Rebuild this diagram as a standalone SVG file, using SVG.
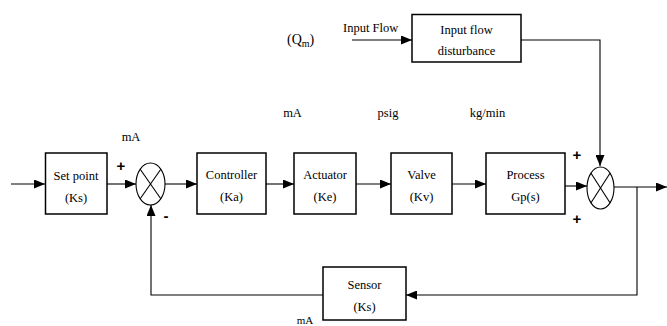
<svg xmlns="http://www.w3.org/2000/svg" width="667" height="326" viewBox="0 0 667 326">
<style>
.box{fill:#fff;stroke:#000;stroke-width:1.5}
.ln{fill:none;stroke:#000;stroke-width:1.1}
.sum{fill:#fff;stroke:#000;stroke-width:1.1}
.c{text-anchor:middle}
</style>
<defs>
<marker id="ah" markerWidth="11" markerHeight="9" refX="11" refY="4.5" orient="auto" markerUnits="userSpaceOnUse">
<path d="M0,0 L11,4.5 L0,9 Z" fill="#000"/>
</marker>
</defs>
<rect width="667" height="326" fill="#fff"/>
<g id="connectors">
<line class="ln" x1="11" y1="184" x2="45" y2="184" marker-end="url(#ah)"/>
<line class="ln" x1="107" y1="184" x2="136" y2="184" marker-end="url(#ah)"/>
<line class="ln" x1="165" y1="184" x2="197" y2="184" marker-end="url(#ah)"/>
<line class="ln" x1="266" y1="184" x2="294" y2="184" marker-end="url(#ah)"/>
<line class="ln" x1="356" y1="184" x2="391" y2="184" marker-end="url(#ah)"/>
<line class="ln" x1="452" y1="184" x2="486" y2="184" marker-end="url(#ah)"/>
<line class="ln" x1="565" y1="186" x2="587" y2="186" marker-end="url(#ah)"/>
<line class="ln" x1="614" y1="187" x2="667" y2="187" marker-end="url(#ah)"/>
<polyline class="ln" points="637,187 637,295 406,295" marker-end="url(#ah)"/>
<polyline class="ln" points="323,295 151,295 151,205" marker-end="url(#ah)"/>
<line class="ln" x1="352" y1="40" x2="412" y2="40" marker-end="url(#ah)"/>
<polyline class="ln" points="521,40 600,40 600,166" marker-end="url(#ah)"/>
</g>
<g font-family="'Liberation Serif','Times New Roman','DejaVu Serif',serif" font-size="12.5" fill="#000">
<g id="setpoint">
<rect class="box" x="45.5" y="153" width="61.5" height="61"/>
<text class="c" x="76" y="180">Set point</text>
<text class="c" x="76" y="202">(Ks)</text>
</g>
<g id="sum1">
<ellipse class="sum" cx="150.5" cy="184" rx="14.5" ry="21"/>
<line class="ln" x1="140.2" y1="169.2" x2="160.8" y2="198.8"/>
<line class="ln" x1="160.8" y1="169.2" x2="140.2" y2="198.8"/>
</g>
<g id="controller">
<rect class="box" x="197" y="153" width="69" height="61"/>
<text class="c" x="231.5" y="179">Controller</text>
<text class="c" x="231.5" y="201">(Ka)</text>
</g>
<g id="actuator">
<rect class="box" x="294" y="153" width="62" height="61"/>
<text class="c" x="325" y="179">Actuator</text>
<text class="c" x="325" y="201">(Ke)</text>
</g>
<g id="valve">
<rect class="box" x="391" y="153" width="61" height="61"/>
<text class="c" x="421.5" y="179">Valve</text>
<text class="c" x="421.5" y="201">(Kv)</text>
</g>
<g id="process">
<rect class="box" x="486" y="153" width="79" height="61"/>
<text class="c" x="525.5" y="179">Process</text>
<text class="c" x="525.5" y="201">Gp(s)</text>
</g>
<g id="sum2">
<ellipse class="sum" cx="600.5" cy="188" rx="13.5" ry="21"/>
<line class="ln" x1="591" y1="173.2" x2="610" y2="202.8"/>
<line class="ln" x1="610" y1="173.2" x2="591" y2="202.8"/>
</g>
<g id="sensor">
<rect class="box" x="323" y="267" width="83" height="53"/>
<text class="c" x="364.5" y="289">Sensor</text>
<text class="c" x="364.5" y="311">(Ks)</text>
</g>
<g id="disturbance">
<rect class="box" x="412" y="14.5" width="109" height="47.5"/>
<text class="c" x="466.5" y="34">Input flow</text>
<text class="c" x="466.5" y="55">disturbance</text>
</g>
<g id="labels">
<text x="343" y="32">Input Flow</text>
<text x="287" y="44" font-size="14">(Q<tspan font-size="10" dy="3">m</tspan><tspan dy="-3">)</tspan></text>
<text class="c" x="131" y="141">mA</text>
<text class="c" x="292.5" y="117">mA</text>
<text class="c" x="388" y="117">psig</text>
<text class="c" x="487.5" y="117">kg/min</text>
<text class="c" x="305" y="324" font-size="11">mA</text>
<g font-family="'Liberation Sans',Arial,sans-serif" font-weight="bold" font-size="15">
<text class="c" x="121" y="171">+</text>
<text class="c" x="166" y="221">-</text>
<text class="c" x="577" y="160">+</text>
<text class="c" x="577" y="224">+</text>
</g>
</g>
</g>
</svg>
